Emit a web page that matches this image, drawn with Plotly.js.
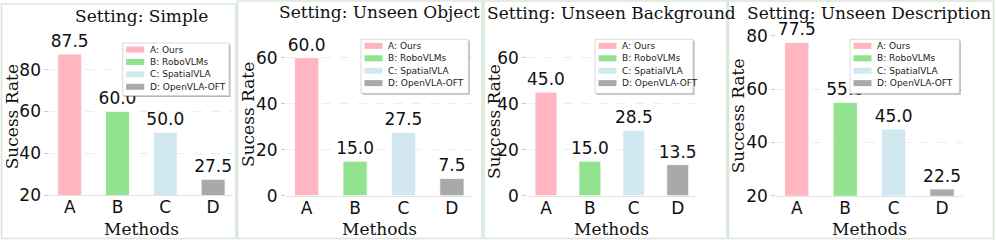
<!DOCTYPE html>
<html>
<head>
<meta charset="utf-8">
<script src="https://cdn.plot.ly/plotly-3.0.1.min.js"></script>
<style>html,body{margin:0;padding:0;background:#fff;}#chart{width:996px;height:240px;}</style>
</head>
<body>
<div id="chart"></div>
<script>
// ---- data ----
const categories = ['A', 'B', 'C', 'D'];
const methodNames = ['A: Ours', 'B: RoboVLMs', 'C: SpatialVLA', 'D: OpenVLA-OFT'];
const settingNames = ['Setting: Simple', 'Setting: Unseen Object', 'Setting: Unseen Background', 'Setting: Unseen Description'];
const simpleValues = [87.5, 60.0, 50.0, 27.5];
const unseenObjectValues = [60.0, 15.0, 27.5, 7.5];
const unseenBackgroundValues = [45.0, 15.0, 28.5, 13.5];
const unseenDescriptionValues = [77.5, 55.0, 45.0, 22.5];
const yTitles = ['Sucess Rate', 'Sucess Rate', 'Success Rate', 'Success Rate'];
const xTitle = 'Methods';

// ---- style / layout ----
const W = 996, H = 240;
const barColors = ['#FFB6C1', '#92E28F', '#D2E8F1', '#A9A9A9'];
const seriesValues = [simpleValues, unseenObjectValues, unseenBackgroundValues, unseenDescriptionValues];
const panels = [
  {x0: 49.4, x1: 233.4, top: 38.3, bottom: 195.0, yr: [20, 95], ticks: [20, 40, 60, 80], titleY: 15.7, ytX: 12.3, ytY: 117, border: [1.5, 4, 236, 238.5], leg: {l: 122.7, t: 43, w: 106.3, h: 52.5}},
  {x0: 286.1, x1: 472.5, top: 34.7, bottom: 195.7, yr: [0, 70], ticks: [0, 20, 40, 60], titleY: 12.3, ytX: 248, ytY: 115, border: [237.5, 1, 482, 238.5], leg: {l: 361, t: 39.3, w: 107.3, h: 54}},
  {x0: 527.3, x1: 696.4, top: 34.7, bottom: 195.7, yr: [0, 70], ticks: [0, 20, 40, 60], titleY: 13.3, ytX: 493.3, ytY: 121.7, border: [484, 1, 727, 238.5], leg: {l: 595, t: 39.3, w: 98, h: 54}},
  {x0: 776.2, x1: 962.6, top: 35.2, bottom: 195.7, yr: [20, 80.2], ticks: [20, 40, 60, 80], titleY: 12.5, ytX: 738.3, ytY: 116, border: [728.5, 1, 993.5, 238.5], leg: {l: 850, t: 39.3, w: 109.3, h: 54}}
];
const px = v => v / W;
const py = v => 1 - v / H;
const sans = 'DejaVu Sans, sans-serif';
const serif = 'DejaVu Serif, serif';

const data = [];
const layout = {
  width: W, height: H,
  margin: {l: 0, r: 0, t: 0, b: 0},
  paper_bgcolor: '#fff', plot_bgcolor: '#fff',
  showlegend: false,
  shapes: [], annotations: []
};

panels.forEach((p, i) => {
  const n = i === 0 ? '' : String(i + 1);
  data.push({
    type: 'bar',
    x: categories,
    y: seriesValues[i],
    xaxis: 'x' + n, yaxis: 'y' + n,
    marker: {color: barColors, line: {color: '#ffffff', width: 0.8}},
    width: 0.5,
    text: seriesValues[i].map(v => v.toFixed(1)),
    textposition: 'outside',
    textangle: 0,
    constraintext: 'none',
    cliponaxis: false,
    textfont: {family: sans, size: 17, color: '#111'},
    hoverinfo: 'x+y'
  });
  layout['xaxis' + n] = {
    domain: [px(p.x0), px(p.x1)],
    anchor: 'y' + n,
    type: 'category',
    range: [-0.425, 3.425],
    showgrid: false,
    showline: true, linecolor: '#e3e3e3', linewidth: 1,
    ticks: '',
    ticklabelstandoff: -3,
    tickfont: {family: sans, size: 17, color: '#111'},
    zeroline: false,
    fixedrange: true
  };
  layout['yaxis' + n] = {
    domain: [py(p.bottom), py(p.top)],
    anchor: 'x' + n,
    range: p.yr,
    tickvals: p.ticks,
    showgrid: true, gridcolor: '#e8e8e8', griddash: 'dash', gridwidth: 0.8,
    showline: false,
    zeroline: false,
    ticks: 'outside', ticklen: 4, tickcolor: '#bbbbbb', tickwidth: 0.8,
    tickfont: {family: sans, size: 17, color: '#111'},
    fixedrange: true
  };
  // panel border
  layout.shapes.push({type: 'rect', xref: 'paper', yref: 'paper', layer: 'below',
    x0: px(p.border[0]), x1: px(p.border[2]), y0: py(p.border[3]), y1: py(p.border[1]),
    line: {color: '#d9e7d8', width: 1.6}, fillcolor: 'rgba(0,0,0,0)'});
  // panel title
  layout.annotations.push({text: settingNames[i], xref: 'paper', yref: 'paper', x: px((p.x0 + p.x1) / 2), y: py(p.titleY),
    xanchor: 'center', yanchor: 'middle', showarrow: false, font: {family: serif, size: 17, color: '#111'}});
  // x title
  layout.annotations.push({text: xTitle, xref: 'paper', yref: 'paper', x: px((p.x0 + p.x1) / 2), y: py(228.5),
    xanchor: 'center', yanchor: 'middle', showarrow: false, font: {family: serif, size: 17, color: '#111'}});
  // y title
  layout.annotations.push({text: yTitles[i], xref: 'paper', yref: 'paper', x: px(p.ytX), y: py(p.ytY), textangle: -90,
    xanchor: 'center', yanchor: 'middle', showarrow: false, font: {family: serif, size: 17, color: '#111'}});
  // legend box (manual, matplotlib-like with shadow)
  const L = p.leg;
  layout.shapes.push({type: 'rect', xref: 'paper', yref: 'paper', layer: 'above',
    x0: px(L.l + 1.5), x1: px(L.l + L.w + 1.5), y0: py(L.t + L.h + 1.5), y1: py(L.t + 1.5),
    line: {width: 0}, fillcolor: 'rgba(90,90,90,0.45)'});
  layout.shapes.push({type: 'rect', xref: 'paper', yref: 'paper', layer: 'above',
    x0: px(L.l), x1: px(L.l + L.w), y0: py(L.t + L.h), y1: py(L.t),
    line: {color: '#d0d0d0', width: 0.8}, fillcolor: '#ffffff'});
  methodNames.forEach((name, k) => {
    const cy = L.t + 6.6 + k * 12.4;
    layout.shapes.push({type: 'rect', xref: 'paper', yref: 'paper', layer: 'above',
      x0: px(L.l + 3.5), x1: px(L.l + 21.5), y0: py(cy + 3), y1: py(cy - 3),
      line: {width: 0}, fillcolor: barColors[k]});
    layout.annotations.push({text: name, xref: 'paper', yref: 'paper', x: px(L.l + 25), y: py(cy),
      xanchor: 'left', yanchor: 'middle', showarrow: false, font: {family: sans, size: 9, color: '#222'}});
  });
});

Plotly.newPlot('chart', data, layout, {staticPlot: true, displayModeBar: false});
</script>
</body>
</html>
